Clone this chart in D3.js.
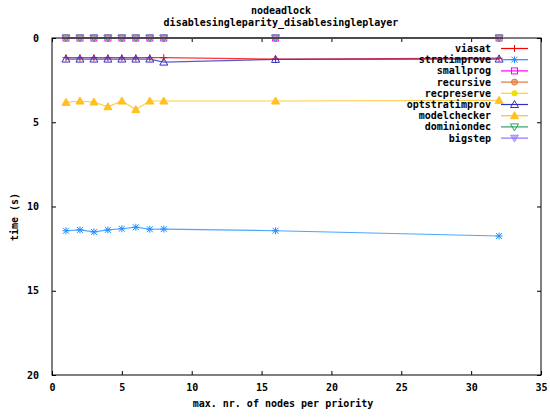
<!DOCTYPE html>
<html>
<head>
<meta charset="utf-8">
<script src="https://cdn.jsdelivr.net/npm/d3@7"></script>
<style>
  body { margin: 0; background: #fff; }
  text { font-family: "DejaVu Sans Mono", "Liberation Mono", monospace; font-weight: bold; font-size: 10px; fill: #000; }
</style>
</head>
<body>
<div id="chart"></div>
<script>
// data
var xs = [1, 2, 3, 4, 5, 6, 7, 8, 16, 32];
var seriesNames = ["viasat", "stratimprove", "smallprog", "recursive", "recpreserve",
                   "optstratimprov", "modelchecker", "dominiondec", "bigstep"];
var viasat        = [1.17, 1.17, 1.17, 1.17, 1.17, 1.17, 1.17, 1.17, 1.25, 1.2];
var stratimprove  = [11.44, 11.39, 11.51, 11.39, 11.32, 11.23, 11.35, 11.34, 11.44, 11.75];
var smallprog     = [0, 0, 0, 0, 0, 0, 0, 0, 0, 0];
var recursive     = [0, 0, 0, 0, 0, 0, 0, 0, 0, 0];
var recpreserve   = [0, 0, 0, 0, 0, 0, 0, 0, 0, 0];
var optstratimprov = [1.25, 1.25, 1.25, 1.25, 1.25, 1.25, 1.25, 1.43, 1.27, 1.25];
var modelchecker  = [3.82, 3.74, 3.8, 4.08, 3.74, 4.25, 3.74, 3.74, 3.74, 3.7];
var dominiondec   = [0, 0, 0, 0, 0, 0, 0, 0, 0, 0];
var bigstep       = [0, 0, 0, 0, 0, 0, 0, 0, 0, 0];
var xTicks = [0, 5, 10, 15, 20, 25, 30, 35];
var yTicks = [0, 5, 10, 15, 20];

var values = [viasat, stratimprove, smallprog, recursive, recpreserve,
              optstratimprov, modelchecker, dominiondec, bigstep];
var colors = ["#ff0000", "#1e90ff", "#ff00ff", "#e07838", "#f0e000",
              "#3030c0", "#ffc020", "#30a060", "#8f70ff"];
var pointTypes = ["plus", "star", "square", "circle", "dot",
                  "triangle", "triangleFill", "down", "downFill"];

// ------------------------------------------------------------------------ //
// SVG AREA
// ------------------------------------------------------------------------ //
var W = 550, H = 418;
var margin = {top: 38, right: 9, bottom: 43, left: 52},
  width = W - margin.left - margin.right,
  height = H - margin.top - margin.bottom;

var svgRoot = d3.select("#chart")
  .append("svg")
    .attr("width", W)
    .attr("height", H);
var svg = svgRoot.append("g")
    .attr("transform", "translate(" + margin.left + "," + margin.top + ")");

var x = d3.scaleLinear().domain([0, 35]).range([0, width]);
var y = d3.scaleLinear().domain([0, 20]).range([0, height]);

// ------------------------------------------------------------------------ //
// AXES (gnuplot style: inward ticks, mirrored)
// ------------------------------------------------------------------------ //
var tl = 4;
svg.append("g")
  .attr("transform", "translate(0," + height + ")")
  .call(d3.axisBottom(x).tickValues(xTicks).tickSize(-tl).tickPadding(9))
  .call(function(g){ g.select(".domain").remove(); });
svg.append("g")
  .call(d3.axisTop(x).tickValues(xTicks).tickSize(-tl).tickFormat(""))
  .call(function(g){ g.select(".domain").remove(); });
svg.append("g")
  .call(d3.axisLeft(y).tickValues(yTicks).tickSize(-tl).tickPadding(13))
  .call(function(g){ g.select(".domain").remove(); });
svg.append("g")
  .attr("transform", "translate(" + width + ",0)")
  .call(d3.axisRight(y).tickValues(yTicks).tickSize(-tl).tickFormat(""))
  .call(function(g){ g.select(".domain").remove(); });

svg.selectAll(".tick line").attr("stroke", "#000");
svg.selectAll(".tick text")
  .style("font-family", "DejaVu Sans Mono")
  .style("font-weight", "bold")
  .style("font-size", "10px");

// ------------------------------------------------------------------------ //
// SERIES
// ------------------------------------------------------------------------ //
function drawPoint(g, type, color, cx, cy) {
  var s = 3.5;
  if (type == "plus" || type == "star") {
    g.append("path").attr("d", "M" + (cx - s) + "," + cy + "H" + (cx + s) + "M" + cx + "," + (cy - s) + "V" + (cy + s))
      .attr("stroke", color).attr("stroke-width", 1).attr("fill", "none");
    if (type == "star") {
      g.append("path").attr("d", "M" + (cx - 3) + "," + (cy - 3) + "L" + (cx + 3) + "," + (cy + 3) + "M" + (cx - 3) + "," + (cy + 3) + "L" + (cx + 3) + "," + (cy - 3))
        .attr("stroke", color).attr("stroke-width", 1).attr("fill", "none");
    }
  } else if (type == "square") {
    g.append("rect").attr("x", cx - 3).attr("y", cy - 3).attr("width", 6).attr("height", 6)
      .attr("stroke", color).attr("fill", "none");
  } else if (type == "circle") {
    g.append("circle").attr("cx", cx).attr("cy", cy).attr("r", 3).attr("stroke", color).attr("fill", color).attr("fill-opacity", 0.6);
  } else if (type == "dot") {
    g.append("circle").attr("cx", cx).attr("cy", cy).attr("r", 3).attr("fill", color);
  } else {
    var up = type.indexOf("triangle") == 0;
    var d = up
      ? "M" + cx + "," + (cy - 4) + "L" + (cx + 4) + "," + (cy + 3) + "L" + (cx - 4) + "," + (cy + 3) + "Z"
      : "M" + cx + "," + (cy + 4) + "L" + (cx + 4) + "," + (cy - 3) + "L" + (cx - 4) + "," + (cy - 3) + "Z";
    var filled = type.indexOf("Fill") > 0;
    g.append("path").attr("d", d).attr("stroke", color)
      .attr("fill", filled ? color : "none")
      .attr("fill-opacity", type == "downFill" ? 0.55 : 1)
      .attr("stroke-opacity", type == "downFill" ? 0.6 : 1);
  }
}

var line = d3.line()
  .x(function(d, i){ return x(xs[i]); })
  .y(function(d){ return y(d); });

var plot = svg.append("g");
values.forEach(function(vals, k) {
  var g = plot.append("g");
  g.append("path")
    .attr("d", line(vals))
    .attr("fill", "none")
    .attr("stroke", colors[k])
    .attr("stroke-width", 1.2)
    .attr("stroke-opacity", 0.8);
  vals.forEach(function(v, i) {
    drawPoint(g, pointTypes[k], colors[k], x(xs[i]), y(v));
  });
});

// border
svg.append("rect")
  .attr("width", width).attr("height", height)
  .attr("fill", "none").attr("stroke", "#000").attr("stroke-width", 1);

// ------------------------------------------------------------------------ //
// LEGEND
// ------------------------------------------------------------------------ //
var legend = svgRoot.append("g");
seriesNames.forEach(function(name, k) {
  var ly = 48.5 + k * 11.2;
  legend.append("text")
    .attr("x", 491).attr("y", ly).attr("dy", "0.35em")
    .attr("text-anchor", "end")
    .text(name);
  legend.append("line")
    .attr("x1", 501).attr("x2", 528).attr("y1", ly).attr("y2", ly)
    .attr("stroke", colors[k]).attr("stroke-width", 1.2);
  drawPoint(legend, pointTypes[k], colors[k], 514.5, ly);
});

// ------------------------------------------------------------------------ //
// TITLES
// ------------------------------------------------------------------------ //
svgRoot.append("text").attr("x", 281).attr("y", 14).attr("text-anchor", "middle").text("nodeadlock");
svgRoot.append("text").attr("x", 281).attr("y", 26).attr("text-anchor", "middle").text("disablesingleparity_disablesingleplayer");
svgRoot.append("text").attr("x", 283).attr("y", 407).attr("text-anchor", "middle").text("max. nr. of nodes per priority");
svgRoot.append("text")
  .attr("transform", "translate(18,217) rotate(-90)")
  .attr("text-anchor", "middle")
  .text("time (s)");
</script>
</body>
</html>
